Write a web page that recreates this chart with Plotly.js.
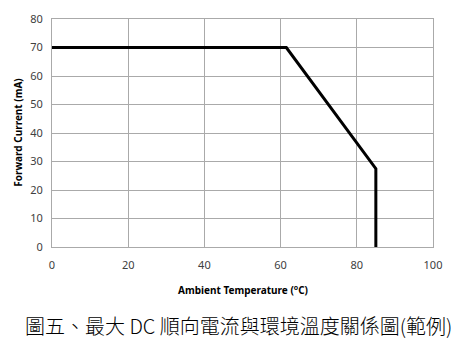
<!DOCTYPE html>
<html>
<head>
<meta charset="utf-8">
<script src="https://cdn.plot.ly/plotly-3.0.1.min.js"></script>
<style>body{margin:0;background:#fff}#chart{width:469px;height:355px}</style>
</head>
<body>
<div id="chart"></div>
<script>
var temperature = [0, 61.5, 85, 85];
var current = [70, 70, 27.5, 0];
var xTicks = [0, 20, 40, 60, 80, 100];
var yTicks = [0, 10, 20, 30, 40, 50, 60, 70, 80];
var xTitle = "Ambient Temperature (<sup>o</sup>C)";
var yTitle = "Forward Current (mA)";
var caption = "圖五、最大 DC 順向電流與環境溫度關係圖(範例)";

var trace = {
  x: temperature, y: current, mode: "lines", type: "scatter",
  line: {color: "#000", width: 3}, hoverinfo: "none"
};
var axisCommon = {
  showgrid: true, gridcolor: "#aaaaaa", gridwidth: 1,
  showline: true, linecolor: "#aaaaaa", linewidth: 1, mirror: true,
  zeroline: false, ticks: "", tickfont: {family: "Noto Sans, sans-serif", size: 11, color: "#404040"}
};
var layout = {
  width: 469, height: 355,
  margin: {l: 52, r: 36, t: 19, b: 108},
  paper_bgcolor: "#fff", plot_bgcolor: "#fff",
  showlegend: false,
  xaxis: Object.assign({}, axisCommon, {range: [0, 100], tickvals: xTicks, ticklen: 8, ticks: "outside", tickcolor: "rgba(0,0,0,0)"}),
  yaxis: Object.assign({}, axisCommon, {range: [0, 80], tickvals: yTicks, ticks: "outside", ticklen: 6, tickcolor: "rgba(0,0,0,0)"}),
  annotations: [
    {text: "<b>" + xTitle + "</b>", xref: "paper", yref: "paper", x: 0.5, y: -0.19, xanchor: "center", yanchor: "middle", showarrow: false,
     font: {family: "Noto Sans, sans-serif", size: 10, color: "#000"}},
    {text: "<b>" + yTitle + "</b>", xref: "paper", yref: "paper", x: -0.09, y: 0.5, xanchor: "center", yanchor: "middle", textangle: -90, showarrow: false,
     font: {family: "Noto Sans, sans-serif", size: 10, color: "#000"}},
    {text: caption, xref: "paper", yref: "paper", x: 0.49, y: -0.345, xanchor: "center", yanchor: "middle", showarrow: false,
     font: {family: "Noto Sans CJK TC, sans-serif", size: 20, color: "#000", weight: 300}}
  ]
};
Plotly.newPlot("chart", [trace], layout, {staticPlot: true, displayModeBar: false});
</script>
</body>
</html>
